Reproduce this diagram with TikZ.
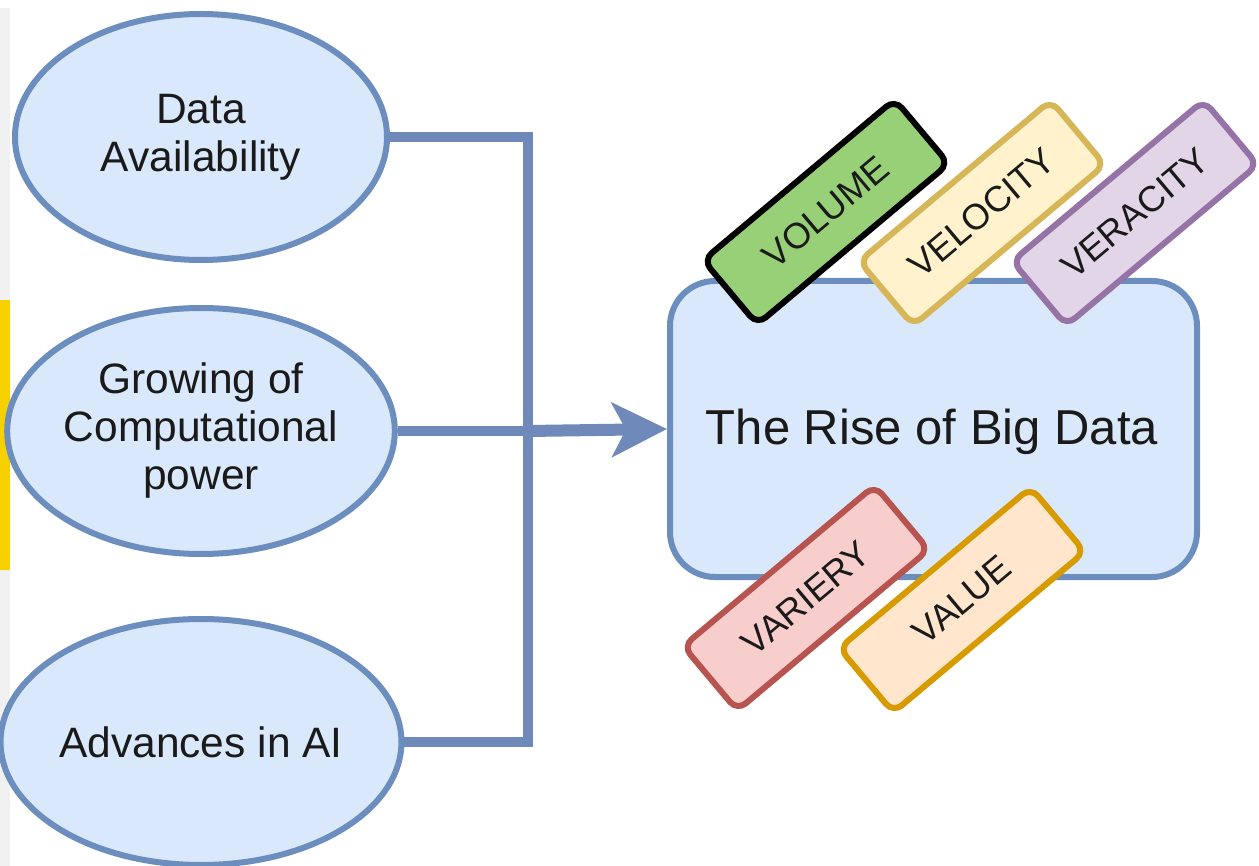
\documentclass[tikz,border=0pt]{standalone}
\usepackage{fontspec}
\setmainfont{Liberation Sans}
\usetikzlibrary{shapes.geometric,arrows.meta}
\definecolor{bluefill}{HTML}{DAE8FC}
\definecolor{bluestroke}{HTML}{6C8EBF}
\definecolor{connblue}{HTML}{6F89BA}
\definecolor{greenfill}{HTML}{97D077}
\definecolor{yelfill}{HTML}{FFF2CC}
\definecolor{yelstroke}{HTML}{D6B656}
\definecolor{purfill}{HTML}{E1D5E7}
\definecolor{purstroke}{HTML}{9673A6}
\definecolor{redfill}{HTML}{F8CECC}
\definecolor{redstroke}{HTML}{B85450}
\definecolor{orafill}{HTML}{FFE6CC}
\definecolor{orastroke}{HTML}{D79B00}
\definecolor{sidegrey}{HTML}{F1F1F1}
\definecolor{sidegold}{HTML}{F7D000}
\definecolor{textdark}{HTML}{1A1A1A}
\tikzset{
  cause/.style={ellipse, draw=bluestroke, fill=bluefill, line width=6pt,
    minimum width=372pt, minimum height=246pt, inner sep=0pt, align=center,
    text=textdark, font=\fontsize{42.5}{48}\selectfont},
  bigbox/.style={rectangle, rounded corners=45pt, draw=bluestroke, fill=bluefill,
    line width=6pt, minimum width=527pt, minimum height=296pt,
    text=textdark, font=\fontsize{49}{58}\selectfont},
  tag/.style={rectangle, rounded corners=11pt, line width=6pt, rotate=40,
    minimum width=250pt, minimum height=84pt, inner sep=0pt,
    text=textdark, font=\fontsize{36}{42}\selectfont},
  conn/.style={draw=connblue, line width=10pt},
}
\begin{document}
\begin{tikzpicture}[x=1pt,y=-1pt]
\useasboundingbox (0,0) rectangle (1259,866);
\clip (0,0) rectangle (1259,866);
\fill[white] (0,0) rectangle (1259,866);
\fill[sidegrey] (0,8) rectangle (10,866);
\fill[sidegold] (0,300) rectangle (10,570);

\node[cause] (e1) at (201,137) {Data\\Availability};
\node[cause] (e2) at (201,431) {Growing of\\Computational\\power};
\node[cause] (e3) at (201,742) {Advances in AI};

\node[bigbox] (box) at (933.5,429) {};
\node[text=textdark, font=\fontsize{49}{58}\selectfont] (title) at (932,432) {The Rise of Big Data};

\coordinate (j) at (528,431);
\draw[conn] (e1.east) -| (j);
\draw[conn] (e3.east) -| (j);
\draw[conn] (e2.east) -- (j);
\draw[conn, line width=12pt, -{Stealth[length=55pt,width=54pt,inset=14pt]}] (j) -- (box.west);

\node[tag, draw=purstroke, fill=purfill] (veracity) at (1135,213) {VERACITY};
\node[tag, draw=yelstroke, fill=yelfill] (velocity) at (982,213) {VELOCITY};
\node[tag, draw=black, fill=greenfill] (volume) at (826,212) {VOLUME};
\node[tag, draw=redstroke, fill=redfill] (variety) at (806,598) {VARIERY};
\node[tag, draw=orastroke, fill=orafill] (value) at (962,600) {VALUE};
\end{tikzpicture}
\end{document}
